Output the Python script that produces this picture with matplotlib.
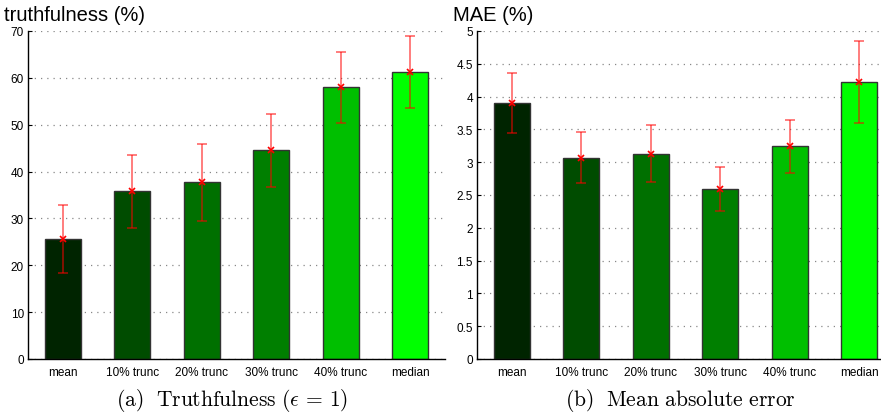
import matplotlib.pyplot as plt
import numpy as np
from matplotlib.ticker import FuncFormatter

plt.rcParams['font.family'] = ['Liberation Sans', 'DejaVu Sans']
plt.rcParams['mathtext.fontset'] = 'cm'

categories = ['mean', '10% trunc', '20% trunc', '30% trunc', '40% trunc', 'median']
bar_colors = ['#002400', '#004c00', '#007000', '#007f00', '#00bf00', '#00ff00']

truth_vals = [25.6, 35.8, 37.7, 44.5, 58.0, 61.2]
truth_err = [7.2, 7.8, 8.2, 7.8, 7.6, 7.7]

mae_vals = [3.90, 3.07, 3.13, 2.59, 3.24, 4.22]
mae_err = [0.46, 0.39, 0.43, 0.33, 0.40, 0.62]


def draw_panel(ax, vals, errs, ymax, ystep, title):
    x = np.arange(1, len(vals) + 1)
    ax.set_axisbelow(True)
    ax.yaxis.grid(True, linestyle=(0, (1, 4)), color='#888888', linewidth=0.9)
    ax.bar(x, vals, width=0.52, color=bar_colors, edgecolor='#333333', linewidth=1.0, zorder=2)
    ax.errorbar(x, vals, yerr=errs, fmt='none', ecolor='red', alpha=0.55,
                elinewidth=1.3, capsize=3.5, capthick=1.3, zorder=3)
    ax.plot(x, vals, 'x', color='red', markersize=5, markeredgewidth=1.2, zorder=4)
    ax.set_xlim(0.5, 6.5)
    ax.set_ylim(0, ymax)
    ax.set_yticks(np.arange(0, ymax + ystep / 2, ystep))
    ax.yaxis.set_major_formatter(FuncFormatter(lambda v, p: f'{v:g}'))
    ax.set_xticks(x)
    ax.set_xticklabels(categories)
    ax.tick_params(axis='x', length=0, labelsize=8.5, pad=5)
    ax.tick_params(axis='y', direction='in', length=3, labelsize=8.5, pad=3)
    for s in ['top', 'right']:
        ax.spines[s].set_visible(False)
    for s in ['left', 'bottom']:
        ax.spines[s].set_linewidth(1.0)
    ax.text(-0.058, 1.022, title, transform=ax.transAxes, fontsize=14.5, ha='left', va='bottom')


fig = plt.figure(figsize=(8.81, 4.14), dpi=100)
ax1 = fig.add_axes([28 / 881, 54 / 414, 417 / 881, 328 / 414])
ax2 = fig.add_axes([477 / 881, 54 / 414, 417 / 881, 328 / 414])

draw_panel(ax1, truth_vals, truth_err, 70, 10, 'truthfulness (%)')
draw_panel(ax2, mae_vals, mae_err, 5, 0.5, 'MAE (%)')

fig.text(232 / 881, 1 - 401 / 414, r'$\mathrm{(a)\ \ Truthfulness\ }(\epsilon\, =\, 1)$',
         ha='center', va='center', fontsize=15.5)
fig.text(680 / 881, 1 - 401 / 414, r'$\mathrm{(b)\ \ Mean\ absolute\ error}$',
         ha='center', va='center', fontsize=15.5)

fig.savefig('out.png', dpi=100)
